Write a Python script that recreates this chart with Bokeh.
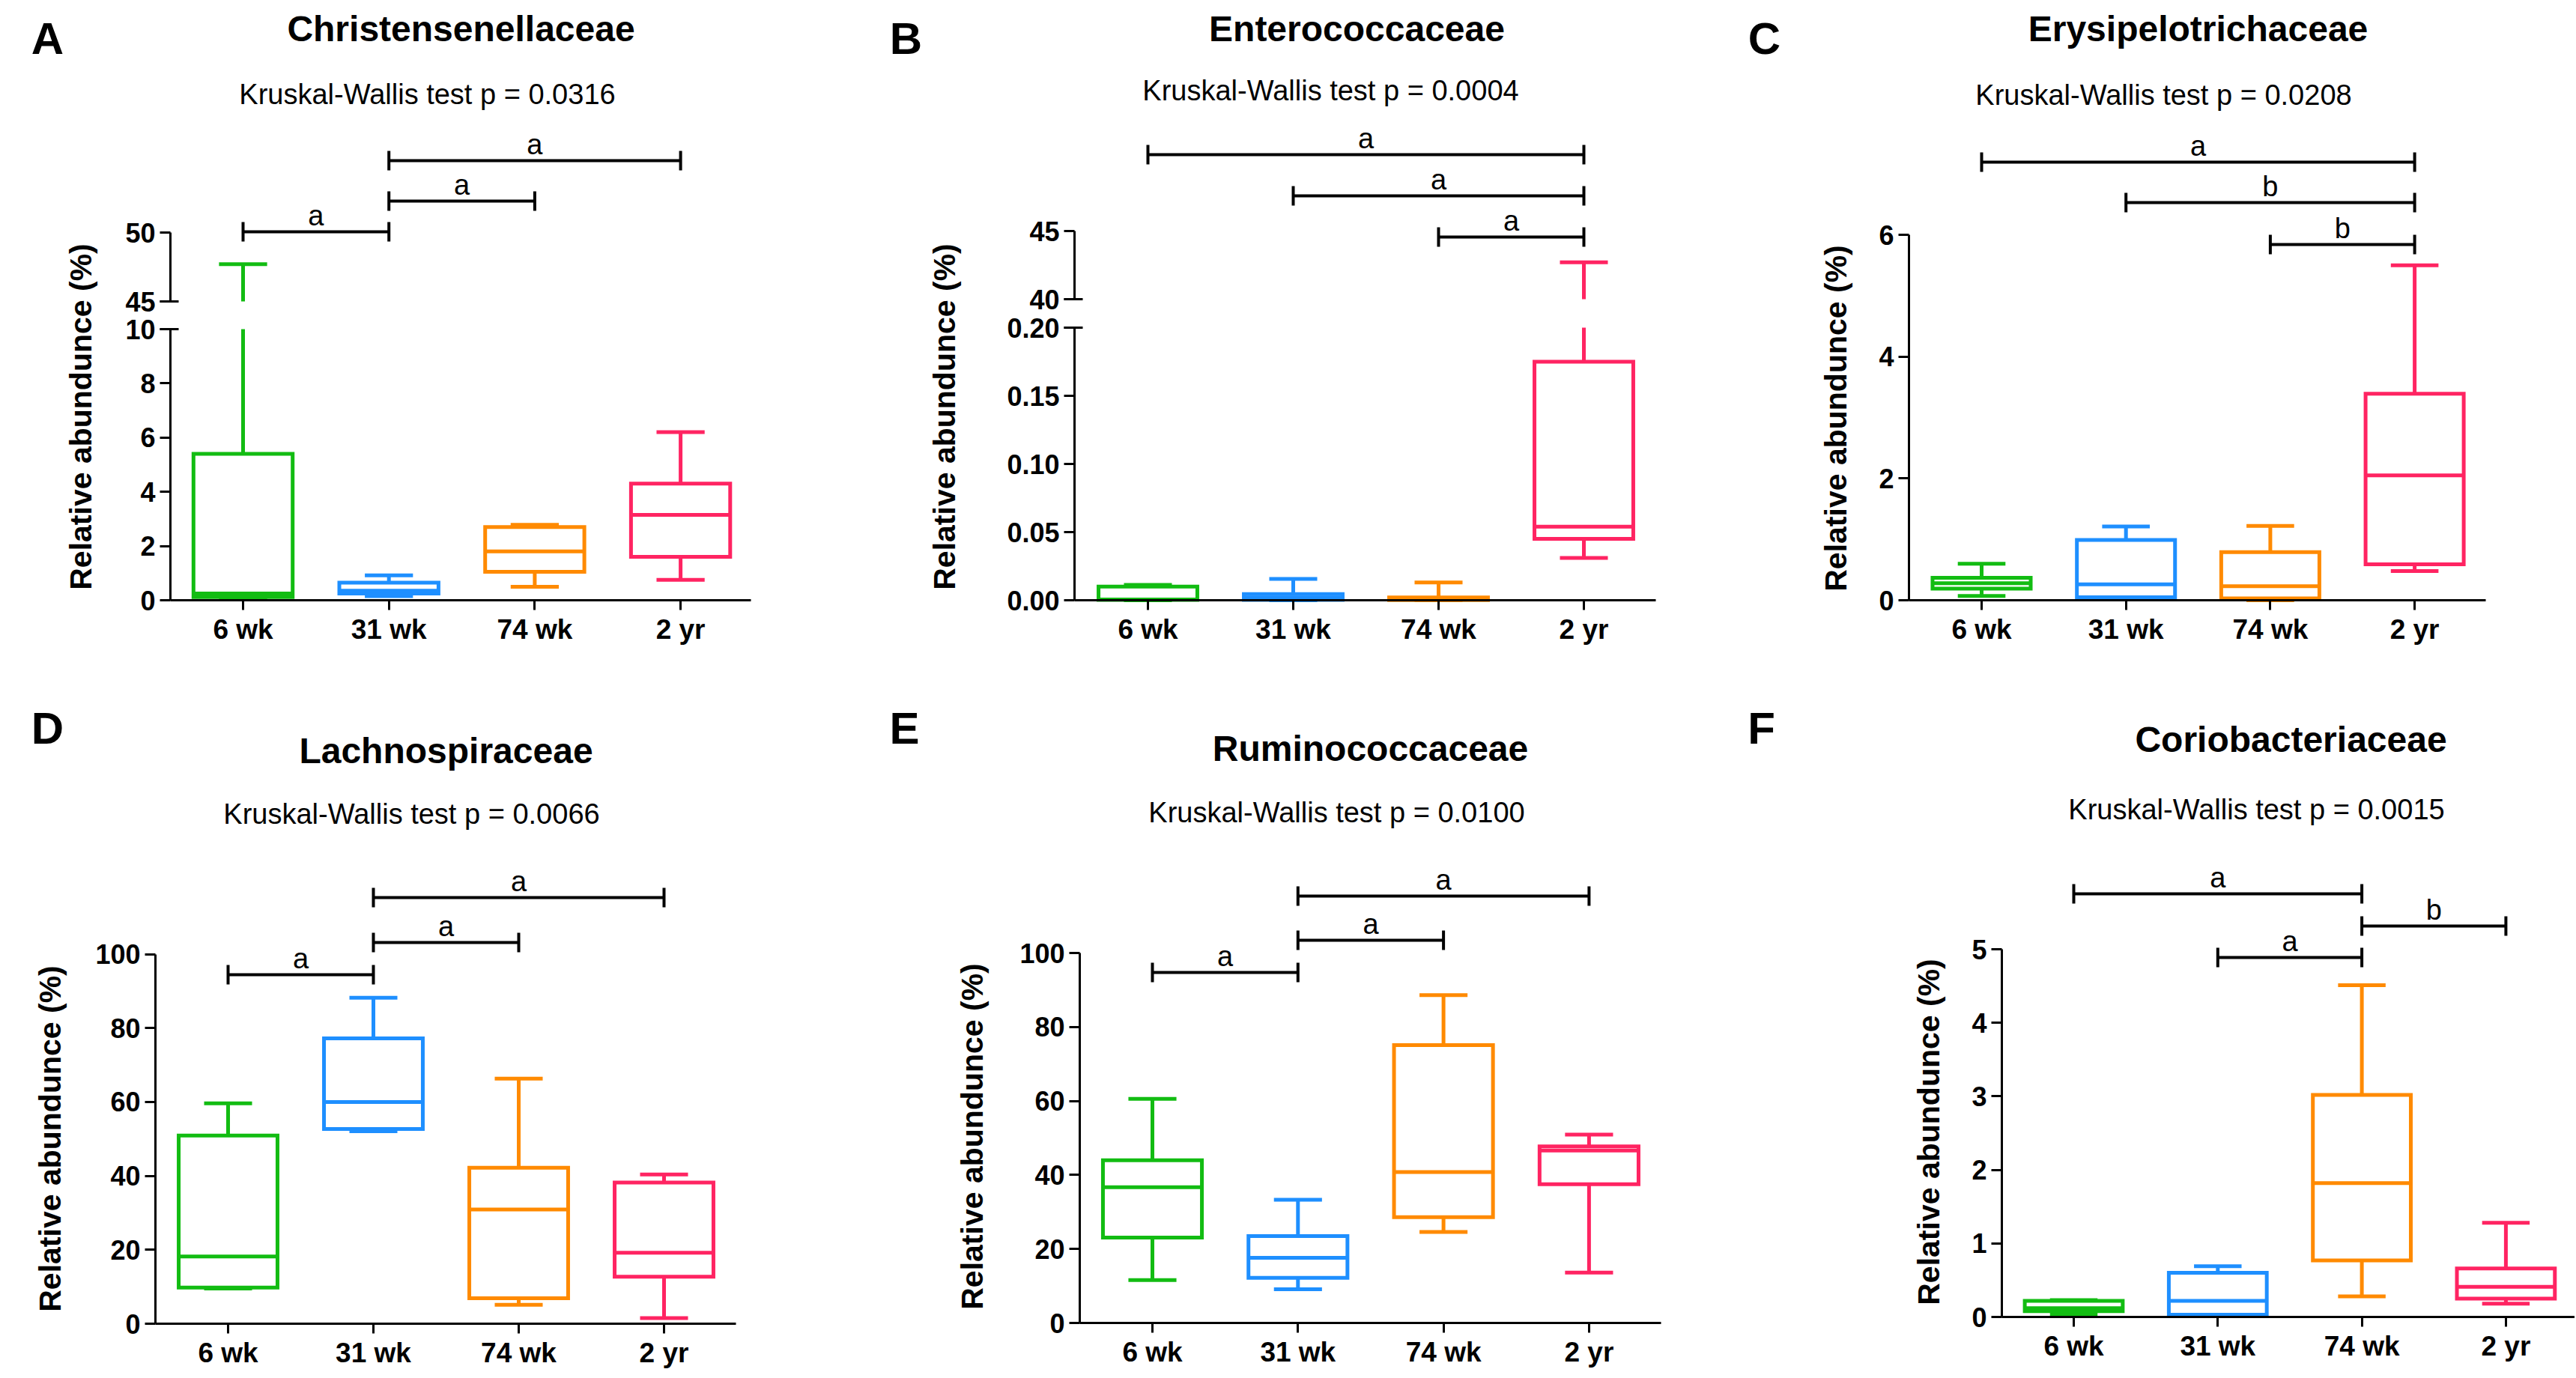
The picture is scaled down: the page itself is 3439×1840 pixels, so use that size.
import numpy as np
from bokeh.plotting import figure
from bokeh.layouts import row, column
from bokeh.models import (Range1d, LinearAxis, FixedTicker, Label, ColumnDataSource,
                          NumeralTickFormatter)
from bokeh.core.properties import value
from bokeh.embed import file_html
from bokeh.resources import INLINE

# ---------------- data ----------------
groups = ["6 wk", "31 wk", "74 wk", "2 yr"]
group_colors = ["#12BC12", "#1E8FFF", "#FF8A00", "#FF2462"]

# A  Christensenellaceae
a_name = "Christensenellaceae"
a_p = "Kruskal-Wallis test p = 0.0316"
a_min = [0.05, 0.15, 0.50, 0.75]
a_q1 = [0.12, 0.25, 1.05, 1.60]
a_med = [0.25, 0.35, 1.80, 3.15]
a_q3 = [5.40, 0.65, 2.70, 4.30]
a_max = [47.7, 0.92, 2.78, 6.20]
a_from = [2, 2, 1]
a_to = [4, 3, 2]
a_sig = ["a", "a", "a"]
a_ticks_low = [0, 2, 4, 6, 8, 10]
a_ticks_high = [45, 50]

# B  Enterococcaceae
b_name = "Enterococcaceae"
b_p = "Kruskal-Wallis test p = 0.0004"
b_min = [0.0, 0.0, 0.0, 0.031]
b_q1 = [0.0003, 0.0003, 0.0002, 0.045]
b_med = [0.0005, 0.002, 0.001, 0.054]
b_q3 = [0.0100, 0.0045, 0.0020, 0.175]
b_max = [0.0112, 0.0157, 0.0130, 42.7]
b_from = [1, 2, 3]
b_to = [4, 4, 4]
b_sig = ["a", "a", "a"]
b_ticks_low = [0, 0.05, 0.10, 0.15, 0.20]
b_ticks_high = [40, 45]

# C  Erysipelotrichaceae
c_name = "Erysipelotrichaceae"
c_p = "Kruskal-Wallis test p = 0.0208"
c_min = [0.07, 0.02, 0.0, 0.48]
c_q1 = [0.19, 0.05, 0.03, 0.59]
c_med = [0.28, 0.26, 0.23, 2.05]
c_q3 = [0.37, 0.99, 0.79, 3.39]
c_max = [0.60, 1.21, 1.22, 5.50]
c_from = [1, 2, 3]
c_to = [4, 4, 4]
c_sig = ["a", "b", "b"]
c_ticks = [0, 2, 4, 6]

# D  Lachnospiraceae
d_name = "Lachnospiraceae"
d_p = "Kruskal-Wallis test p = 0.0066"
d_min = [9.5, 52.1, 5.1, 1.5]
d_q1 = [9.8, 52.7, 6.9, 12.7]
d_med = [18.2, 60.0, 30.9, 19.2]
d_q3 = [50.9, 77.2, 42.2, 38.2]
d_max = [59.6, 88.2, 66.3, 40.4]
d_from = [2, 2, 1]
d_to = [4, 3, 2]
d_sig = ["a", "a", "a"]
d_ticks = [0, 20, 40, 60, 80, 100]

# E  Ruminococcaceae
e_name = "Ruminococcaceae"
e_p = "Kruskal-Wallis test p = 0.0100"
e_min = [11.6, 9.1, 24.6, 13.6]
e_q1 = [23.1, 12.2, 28.6, 37.5]
e_med = [36.7, 17.6, 40.8, 46.6]
e_q3 = [44.0, 23.5, 75.1, 47.7]
e_max = [60.6, 33.3, 88.6, 50.9]
e_from = [2, 2, 1]
e_to = [4, 3, 2]
e_sig = ["a", "a", "a"]
e_ticks = [0, 20, 40, 60, 80, 100]

# F  Coriobacteriaceae
f_name = "Coriobacteriaceae"
f_p = "Kruskal-Wallis test p = 0.0015"
f_min = [0.03, 0.02, 0.28, 0.18]
f_q1 = [0.08, 0.03, 0.77, 0.25]
f_med = [0.12, 0.22, 1.82, 0.41]
f_q3 = [0.22, 0.60, 3.02, 0.66]
f_max = [0.23, 0.69, 4.51, 1.28]
f_from = [1, 3, 2]
f_to = [3, 4, 3]
f_sig = ["a", "b", "a"]
f_ticks = [0, 1, 2, 3, 4, 5]

y_title = "Relative abundunce (%)"

# ---------------- layout / style (pixels) ----------------
FONT = "Liberation Sans"
BOX_W = 0.68
CAP_W = 0.33
LW = 5
LETTER_GAP = 22   # px between bracket line and centre of its letter

panels = [
    dict(letter="A", name=a_name, p=a_p, stats=(a_min, a_q1, a_med, a_q3, a_max),
         br=(a_from, a_to, a_sig), lev=[214, 268, 309],
         box=(0, 0, 1160, 900), axes=(227, 1002, 801), xmap=(324, 194.7), k=36.2,
         ticks=a_ticks_low, brk=(10, 45), upper=(45, 402, 18.4), uticks=a_ticks_high, fmt=None,
         pos=dict(letter=(63, 51), title=(615, 38), sub=(570, 125), ytitle=(107, 556))),
    dict(letter="B", name=b_name, p=b_p, stats=(b_min, b_q1, b_med, b_q3, b_max),
         br=(b_from, b_to, b_sig), lev=[206, 261, 316],
         box=(1160, 0, 1150, 900), axes=(1434, 2210, 801), xmap=(1532, 194.0), k=1820.0,
         ticks=b_ticks_low, brk=(0.20, 40), upper=(40, 399, 18.2), uticks=b_ticks_high,
         fmt="0.00",
         pos=dict(letter=(1209, 51), title=(1811, 38), sub=(1776, 120), ytitle=(1260, 556))),
    dict(letter="C", name=c_name, p=c_p, stats=(c_min, c_q1, c_med, c_q3, c_max),
         br=(c_from, c_to, c_sig), lev=[216, 270, 326],
         box=(2310, 0, 1127, 900), axes=(2548, 3318, 801), xmap=(2645, 192.7), k=81.33,
         ticks=c_ticks, brk=None, fmt=None,
         pos=dict(letter=(2355, 51), title=(2934, 38), sub=(2888, 126), ytitle=(2450, 558))),
    dict(letter="D", name=d_name, p=d_p, stats=(d_min, d_q1, d_med, d_q3, d_max),
         br=(d_from, d_to, d_sig), lev=[1198, 1258, 1301],
         box=(0, 900, 1160, 938), axes=(207, 982, 1767), xmap=(304, 194.0), k=4.935,
         ticks=d_ticks, brk=None, fmt=None,
         pos=dict(letter=(63, 972), title=(595, 1002), sub=(549, 1086), ytitle=(66, 1520))),
    dict(letter="E", name=e_name, p=e_p, stats=(e_min, e_q1, e_med, e_q3, e_max),
         br=(e_from, e_to, e_sig), lev=[1196, 1255, 1298],
         box=(1160, 900, 1150, 938), axes=(1441, 2217, 1766), xmap=(1538, 194.3), k=4.94,
         ticks=e_ticks, brk=None, fmt=None,
         pos=dict(letter=(1207, 972), title=(1829, 999), sub=(1784, 1084), ytitle=(1297, 1517))),
    dict(letter="F", name=f_name, p=f_p, stats=(f_min, f_q1, f_med, f_q3, f_max),
         br=(f_from, f_to, f_sig), lev=[1193, 1236, 1278],
         box=(2310, 900, 1127, 938), axes=(2672, 3437, 1758), xmap=(2768, 192.3), k=98.2,
         ticks=f_ticks, brk=None, fmt=None,
         pos=dict(letter=(2351, 972), title=(3058, 987), sub=(3012, 1080), ytitle=(2574, 1511))),
]


def style_axis(ax, size):
    ax.axis_line_width = 3
    ax.axis_line_color = "black"
    ax.major_tick_line_width = 3
    ax.major_tick_line_color = "black"
    ax.major_tick_out = 14
    ax.major_tick_in = 0
    ax.minor_tick_line_color = None
    ax.major_label_text_font = FONT
    ax.major_label_text_font_style = "bold"
    ax.major_label_text_font_size = f"{size}px"
    ax.major_label_text_color = "black"
    ax.major_label_standoff = 6


def break_marker(p, yx, tick, rng):
    """Tick that crosses the axis at an axis break (GraphPad style)."""
    ax = LinearAxis(y_range_name=rng, ticker=FixedTicker(ticks=[tick]), fixed_location=yx,
                    axis_line_color=None, major_tick_in=11, major_tick_out=14,
                    major_tick_line_width=3, major_tick_line_color="black",
                    minor_tick_line_color=None, major_label_text_color=None)
    p.add_layout(ax, "left")


def build(cfg):
    ox, oy, W, H = cfg["box"]
    yx, xend, fb = cfg["axes"]      # y-axis x, x-axis end, x-axis y (all page px)
    c1, sp = cfg["xmap"]
    k = cfg["k"]

    def to_x(px):
        return 1 + (px - c1) / sp

    def to_y(py):
        return (fb - py) / k

    p = figure(width=W, height=H,
               x_range=Range1d(to_x(ox), to_x(ox + W)),
               y_range=Range1d(to_y(oy + H), to_y(oy)),
               x_axis_type=None, y_axis_type=None, toolbar_location=None,
               output_backend="svg", title=None,
               min_border_left=0, min_border_right=0,
               min_border_top=0, min_border_bottom=0)
    p.outline_line_color = None
    p.background_fill_color = "white"
    p.border_fill_color = "white"

    brk = cfg["brk"]
    if brk:
        uv, upx, uk = cfg["upper"]
        p.extra_y_ranges = {"upper": Range1d(uv - (oy + H - upx) / uk,
                                             uv + (upx - oy) / uk)}

    # axes drawn at their own positions inside the frame
    xloc = to_x(yx)
    yax = LinearAxis(ticker=FixedTicker(ticks=cfg["ticks"]),
                     bounds=(cfg["ticks"][0], cfg["ticks"][-1]), fixed_location=xloc)
    style_axis(yax, 36)
    if cfg["fmt"]:
        yax.formatter = NumeralTickFormatter(format=cfg["fmt"])
    p.add_layout(yax, "left")
    if brk:
        yax2 = LinearAxis(y_range_name="upper", ticker=FixedTicker(ticks=cfg["uticks"]),
                          bounds=(cfg["uticks"][0], cfg["uticks"][-1]), fixed_location=xloc)
        style_axis(yax2, 36)
        p.add_layout(yax2, "left")
        break_marker(p, xloc, cfg["ticks"][-1], "default")
        break_marker(p, xloc, cfg["uticks"][0], "upper")
    xs = np.arange(1, len(groups) + 1)
    xax = LinearAxis(ticker=FixedTicker(ticks=list(xs)),
                     major_label_overrides={int(i): g for i, g in zip(xs, groups)},
                     bounds=(xloc, to_x(xend)), fixed_location=0)
    style_axis(xax, 37)
    xax.major_tick_out = 13
    xax.major_label_standoff = 5
    p.add_layout(xax, "below")

    # boxes
    lo, q1, med, q3, hi = (np.array(s, dtype=float) for s in cfg["stats"])
    top_low = np.minimum(hi, brk[0]) if brk else hi
    src = ColumnDataSource(dict(x=xs, xl=xs - BOX_W / 2, xr=xs + BOX_W / 2,
                                cl=xs - CAP_W / 2, cr=xs + CAP_W / 2,
                                lo=lo, q1=q1, med=med, q3=q3, top=top_low, hi=hi,
                                color=group_colors))
    seg = dict(line_color="color", line_width=LW, line_cap="butt", source=src)
    p.segment("x", "q3", "x", "top", **seg)
    p.segment("x", "q1", "x", "lo", **seg)
    p.quad(left="xl", right="xr", bottom="q1", top="q3", fill_color="white",
           line_color="color", line_width=LW, line_join="miter", source=src)
    p.segment("xl", "med", "xr", "med", **seg)
    p.segment("cl", "lo", "cr", "lo", **seg)
    mask = hi <= brk[0] if brk else np.ones(len(hi), bool)
    capsrc = ColumnDataSource(dict(cl=(xs - CAP_W / 2)[mask], cr=(xs + CAP_W / 2)[mask],
                                   hi=hi[mask], color=list(np.array(group_colors)[mask])))
    p.segment("cl", "hi", "cr", "hi", line_color="color", line_width=LW, line_cap="butt",
              source=capsrc)
    if brk:
        m = hi > brk[1]
        usrc = ColumnDataSource(dict(x=xs[m], cl=(xs - CAP_W / 2)[m], cr=(xs + CAP_W / 2)[m],
                                     y0=np.maximum(q3, brk[1])[m], hi=hi[m],
                                     color=list(np.array(group_colors)[m])))
        p.segment("x", "y0", "x", "hi", line_color="color", line_width=LW, line_cap="butt",
                  source=usrc, y_range_name="upper")
        p.segment("cl", "hi", "cr", "hi", line_color="color", line_width=LW, line_cap="butt",
                  source=usrc, y_range_name="upper")

    # significance brackets
    bf, bt, bl = cfg["br"]
    bf = np.array(bf, float)
    bt = np.array(bt, float)
    lev_px = np.array(cfg["lev"], float)
    lev = to_y(lev_px)
    p.segment(bf, lev, bt, lev, line_color="black", line_width=4)
    p.scatter(np.concatenate([bf, bt]), np.concatenate([lev, lev]), marker="dash", size=26,
              angle=np.pi / 2, line_color="black", line_width=4)
    p.text(x=(bf + bt) / 2, y=to_y(lev_px - LETTER_GAP), text=list(bl), text_align="center",
           text_baseline="middle", text_font=value(FONT),
           text_font_size="38px", text_color="black")

    pos = cfg["pos"]

    def lab(key, text, size, bold, angle=0.0):
        px, py = pos[key]
        p.add_layout(Label(x=to_x(px), y=to_y(py), text=text, text_align="center",
                           text_baseline="middle", text_font=FONT,
                           text_font_size=f"{size}px",
                           text_font_style="bold" if bold else "normal",
                           text_color="black", angle=angle))

    lab("letter", cfg["letter"], 60, True)
    lab("title", cfg["name"], 48, True)
    lab("sub", cfg["p"], 38, False)
    lab("ytitle", y_title, 41, True, angle=np.pi / 2)
    return p


figs = [build(c) for c in panels]
layout = column(row(*figs[:3]), row(*figs[3:]))

html = file_html(layout, INLINE, "Relative abundance")
open("out.html", "w").write(html)
